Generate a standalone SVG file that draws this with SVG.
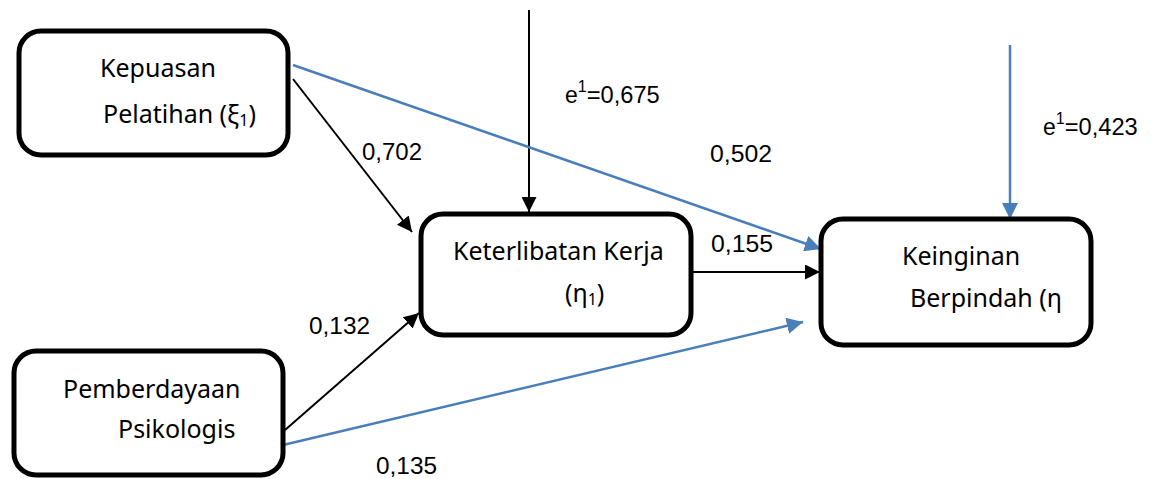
<svg xmlns="http://www.w3.org/2000/svg" width="1159" height="479" viewBox="0 0 1159 479">
<style>
.box{fill:#fff;stroke:#000;stroke-width:5}
.bt{font-family:"Noto Sans","Liberation Sans",sans-serif;font-size:25px;fill:#000}
.lb{font-family:"Liberation Sans",Arial,sans-serif;font-size:23px;fill:#000}
.k{stroke:#000;stroke-width:2;fill:none}
.b{stroke:#4A7EBB;stroke-width:2.5;fill:none}
</style>
<defs>
<marker id="ak" viewBox="0 0 10 10" refX="10" refY="5" markerWidth="7.5" markerHeight="7.5" markerUnits="strokeWidth" orient="auto"><path d="M0,0L10,5L0,10z" fill="#000"/></marker>
<marker id="ab" viewBox="0 0 10 10" refX="10" refY="5" markerWidth="6.5" markerHeight="6.5" markerUnits="strokeWidth" orient="auto"><path d="M0,0L10,5L0,10z" fill="#4A7EBB"/></marker>
</defs>
<g id="connectors">
<line class="k" x1="529" y1="10" x2="529" y2="212" marker-end="url(#ak)"/>
<line class="b" x1="1010" y1="45" x2="1010" y2="219" marker-end="url(#ab)"/>
<line class="k" x1="293" y1="79" x2="412" y2="232" marker-end="url(#ak)"/>
<line class="b" x1="293" y1="65" x2="821" y2="249" marker-end="url(#ab)"/>
<line class="k" x1="693" y1="272" x2="820" y2="272" marker-end="url(#ak)"/>
<line class="k" x1="285" y1="430" x2="419" y2="313" marker-end="url(#ak)"/>
<line class="b" x1="283" y1="445" x2="803" y2="322" marker-end="url(#ab)"/>
</g>
<g id="kepuasan">
<rect class="box" x="19" y="31" width="269" height="124" rx="22"/>
<text class="bt" x="100" y="77">Kepuasan</text>
<text class="bt" x="103" y="123">Pelatihan (ξ<tspan font-size="16" dy="3">1</tspan><tspan dy="-3">)</tspan></text>
</g>
<g id="keterlibatan">
<rect class="box" x="421" y="214" width="270" height="121" rx="22"/>
<text class="bt" x="453" y="260">Keterlibatan Kerja</text>
<text class="bt" x="565" y="302">(η<tspan font-size="16" dy="3">1</tspan><tspan dy="-3">)</tspan></text>
</g>
<g id="keinginan">
<rect class="box" x="821" y="219" width="270" height="126" rx="22"/>
<text class="bt" x="902" y="265">Keinginan</text>
<text class="bt" x="910" y="307">Berpindah (η</text>
</g>
<g id="pemberdayaan">
<rect class="box" x="14" y="351" width="269" height="124" rx="22"/>
<text class="bt" x="63" y="398">Pemberdayaan</text>
<text class="bt" x="118" y="438">Psikologis</text>
</g>
<g id="labels">
<text class="lb" x="362" y="160" textLength="60" lengthAdjust="spacingAndGlyphs">0,702</text>
<text class="lb" x="710" y="162" textLength="62" lengthAdjust="spacingAndGlyphs">0,502</text>
<text class="lb" x="711" y="252" textLength="62" lengthAdjust="spacingAndGlyphs">0,155</text>
<text class="lb" x="309" y="334" textLength="61" lengthAdjust="spacingAndGlyphs">0,132</text>
<text class="lb" x="376" y="474" textLength="61" lengthAdjust="spacingAndGlyphs">0,135</text>
<text class="lb" x="565" y="103">e<tspan font-size="16" dy="-11">1</tspan><tspan dy="11" textLength="73" lengthAdjust="spacingAndGlyphs">=0,675</tspan></text>
<text class="lb" x="1043" y="135">e<tspan font-size="16" dy="-11">1</tspan><tspan dy="11" textLength="73" lengthAdjust="spacingAndGlyphs">=0,423</tspan></text>
</g>
</svg>
